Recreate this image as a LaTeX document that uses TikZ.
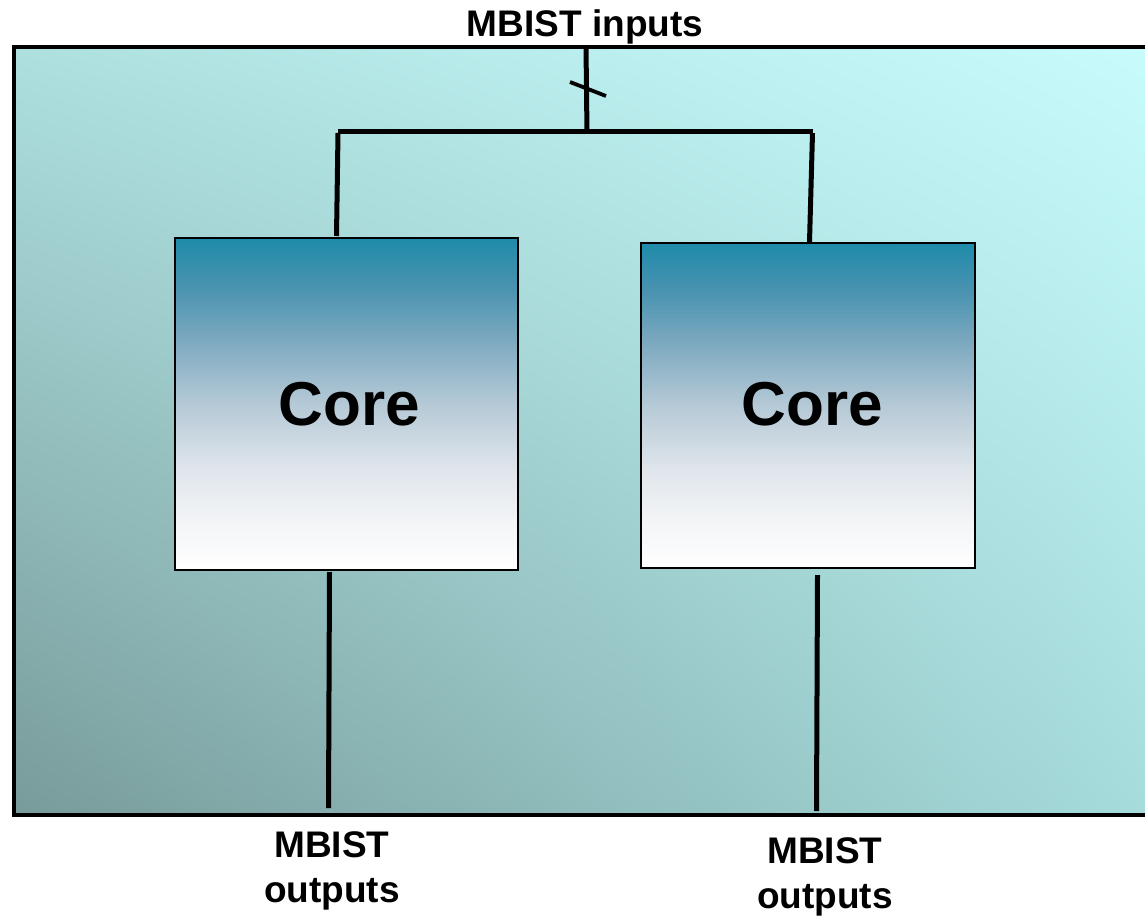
\documentclass[tikz,border=0pt]{standalone}
\usepackage{fontspec}
\setmainfont{Liberation Sans}
\usetikzlibrary{shadings}
\definecolor{cfA}{HTML}{F2F4F6}
\definecolor{cfB}{HTML}{E0E6EC}
\definecolor{cfC}{HTML}{B5C9D6}
\definecolor{cfD}{HTML}{7AA8BF}
\definecolor{cfE}{HTML}{4A93B0}
\definecolor{cfF}{HTML}{1E8BAA}
\definecolor{bgul}{HTML}{AEE0E0}
\definecolor{bgur}{HTML}{C8FCFC}
\definecolor{bgll}{HTML}{789A9A}
\definecolor{bglr}{HTML}{A6DCDC}
% teal-to-white fade of a core block (path spans 25bp..75bp)
\pgfdeclareverticalshading{corefade}{100bp}{%
  color(0bp)=(white); color(25bp)=(white);
  color(32.5bp)=(cfA); color(40bp)=(cfB); color(50bp)=(cfC);
  color(60bp)=(cfD); color(67.5bp)=(cfE);
  color(75bp)=(cfF); color(100bp)=(cfF)}
\begin{document}
\begin{tikzpicture}[x=1pt,y=-1pt,
  wire/.style={line width=5pt, line cap=butt},
  corebox/.style={draw=black, line width=1.8pt, inner sep=0pt,
    shading=corefade,
    font=\bfseries\fontsize{62}{70}\selectfont},
  lbl/.style={font=\bfseries\fontsize{37}{45}\selectfont, align=center, inner sep=0pt}]
\useasboundingbox (0,0) rectangle (1145,918);
% chip outline with its diagonal background
\shade[upper left=bgul, upper right=bgur, lower left=bgll, lower right=bglr]
  (14,47) rectangle (1150,815);
\draw[line width=4.3pt] (1150,47) -- (14,47) -- (14,815) -- (1150,815);
% the two cores
\node[corebox, minimum width=343pt, minimum height=332pt] (coreL) at (346.5,404) {\kern5pt Core};
\node[corebox, minimum width=334pt, minimum height=325pt] (coreR) at (808,405.5) {\kern8pt\raisebox{3pt}{Core}};
% labels
\node[lbl] (inlbl) at (585,27) {MBIST inputs};
\node[lbl] (outL) at (332,870.5) {MBIST\\outputs};
\node[lbl] (outR) at (825,876.5) {MBIST\\outputs};
% input bus and its split
\coordinate (inTop) at (586,47);
\coordinate (split) at (587,133.5);
\coordinate (barL) at (338,131);
\coordinate (barR) at (812.5,131);
\coordinate (dropL) at (336.5,236);
\coordinate (dropR) at (809.5,242);
\draw[wire] (inTop) -- (split);
\draw[line width=3.8pt] (570,82) -- (606,96);
\draw[wire] (barL) -- (barR);
\draw[wire] ([yshift=-2pt]barL) -- (dropL);
\draw[wire] ([yshift=-2pt]barR) -- (dropR);
% outputs
\coordinate (oLtop) at (329.5,572);
\coordinate (oLbot) at (328.5,808);
\coordinate (oRtop) at (817.5,575);
\coordinate (oRbot) at (816.5,811);
\draw[wire] (oLtop) -- (oLbot);
\draw[wire] (oRtop) -- (oRbot);
\end{tikzpicture}
\end{document}
